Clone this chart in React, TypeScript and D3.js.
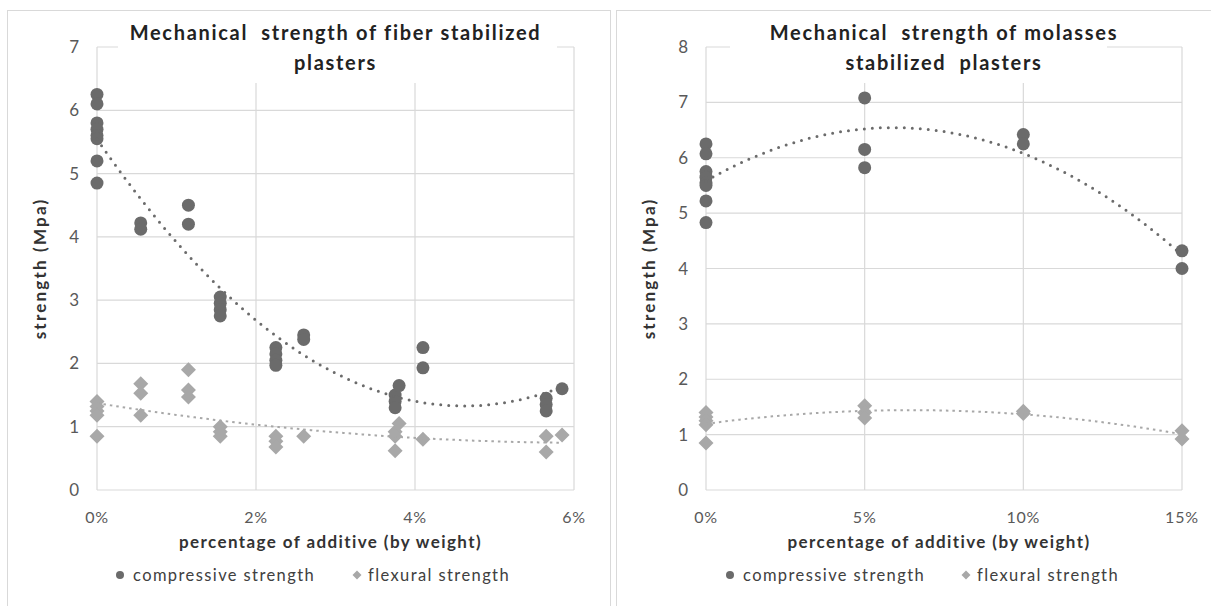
import React from "react";
import * as d3 from "d3";

// ---------- data ----------
// Fiber stabilized plasters (x = % fiber by weight, y = MPa)
const fiberCompX = [0, 0, 0, 0, 0, 0, 0, 0, 0.55, 0.55, 1.15, 1.15, 1.55, 1.55, 1.55, 1.55, 2.25, 2.25, 2.25, 2.25, 2.6, 2.6, 3.75, 3.75, 3.75, 3.8, 4.1, 4.1, 5.65, 5.65, 5.65, 5.85];
const fiberCompY = [6.25, 6.1, 5.8, 5.7, 5.6, 5.55, 5.2, 4.85, 4.22, 4.12, 4.5, 4.2, 3.05, 2.95, 2.85, 2.75, 2.25, 2.15, 2.05, 1.97, 2.45, 2.38, 1.5, 1.4, 1.3, 1.65, 2.25, 1.93, 1.45, 1.35, 1.25, 1.6];
const fiberFlexX = [0, 0, 0, 0, 0, 0.55, 0.55, 0.55, 1.15, 1.15, 1.15, 1.55, 1.55, 1.55, 2.25, 2.25, 2.25, 2.6, 3.75, 3.75, 3.75, 3.8, 4.1, 5.65, 5.65, 5.85];
const fiberFlexY = [1.4, 1.32, 1.25, 1.18, 0.85, 1.68, 1.53, 1.18, 1.9, 1.58, 1.47, 1.0, 0.92, 0.85, 0.85, 0.77, 0.68, 0.85, 0.92, 0.85, 0.62, 1.05, 0.8, 0.85, 0.6, 0.87];

// Molasses stabilized plasters
const molCompX = [0, 0, 0, 0, 0, 0, 0, 0, 5, 5, 5, 10, 10, 15, 15];
const molCompY = [6.25, 6.07, 5.75, 5.65, 5.55, 5.5, 5.22, 4.83, 7.08, 6.15, 5.82, 6.42, 6.25, 4.32, 4.0];
const molFlexX = [0, 0, 0, 0, 0, 5, 5, 5, 10, 10, 15, 15];
const molFlexY = [1.4, 1.32, 1.25, 1.18, 0.85, 1.52, 1.4, 1.3, 1.42, 1.38, 1.07, 0.92];

const fiberXTicks = [0, 2, 4, 6];
const fiberYTicks = [0, 1, 2, 3, 4, 5, 6, 7];
const molXTicks = [0, 5, 10, 15];
const molYTicks = [0, 1, 2, 3, 4, 5, 6, 7, 8];

const titleFiber = ["Mechanical  strength of fiber stabilized", "plasters"];
const titleMol = ["Mechanical  strength of molasses", "stabilized  plasters"];
const xTitle = "percentage of additive (by weight)";
const yTitle = "strength (Mpa)";
const legendNames = ["compressive strength", "flexural strength"];

// ---------- helpers ----------
const COMP = "#6b6b6b";
const FLEX = "#a8a8a8";
const GRID = "#d9d9d9";
const TEXT = "#595959";
const FONT = "Lato, 'Open Sans', sans-serif";

function quadFit(xs: number[], ys: number[]) {
  // least squares y = a + b x + c x^2
  const S = [0, 0, 0, 0, 0];
  const T = [0, 0, 0];
  xs.forEach((x, i) => {
    let p = 1;
    for (let k = 0; k < 5; k++) { S[k] += p; p *= x; }
    T[0] += ys[i]; T[1] += ys[i] * x; T[2] += ys[i] * x * x;
  });
  const M = [
    [S[0], S[1], S[2], T[0]],
    [S[1], S[2], S[3], T[1]],
    [S[2], S[3], S[4], T[2]],
  ];
  for (let i = 0; i < 3; i++) {
    let piv = i;
    for (let r = i + 1; r < 3; r++) if (Math.abs(M[r][i]) > Math.abs(M[piv][i])) piv = r;
    [M[i], M[piv]] = [M[piv], M[i]];
    for (let r = 0; r < 3; r++) {
      if (r === i) continue;
      const f = M[r][i] / M[i][i];
      for (let c = i; c < 4; c++) M[r][c] -= f * M[i][c];
    }
  }
  const a = M[0][3] / M[0][0], b = M[1][3] / M[1][1], c = M[2][3] / M[2][2];
  return (x: number) => a + b * x + c * x * x;
}

type PanelProps = {
  plot: { x0: number; x1: number; y0: number; y1: number };
  xDomain: [number, number];
  yDomain: [number, number];
  xTicks: number[];
  yTicks: number[];
  title: string[];
  titleBox: [number, number];
  comp: [number[], number[]];
  flex: [number[], number[]];
  legendX: [number, number];
};

function Panel(p: PanelProps) {
  const x = d3.scaleLinear().domain(p.xDomain).range([p.plot.x0, p.plot.x1]);
  const y = d3.scaleLinear().domain(p.yDomain).range([p.plot.y1, p.plot.y0]);
  const cx = (p.plot.x0 + p.plot.x1) / 2;
  const cy = (p.plot.y0 + p.plot.y1) / 2;

  const trend = (xs: number[], ys: number[]) => {
    const f = quadFit(xs, ys);
    const lo = d3.min(xs)!, hi = d3.max(xs)!;
    const pts = d3.range(0, 101).map((i) => lo + ((hi - lo) * i) / 100);
    return d3.line<number>().x((v) => x(v)).y((v) => y(f(v)))(pts) || "";
  };

  const diamond = (px: number, py: number, r: number) =>
    `M${px},${py - r}L${px + r},${py}L${px},${py + r}L${px - r},${py}Z`;

  return (
    <g>
      {/* grid */}
      {p.yTicks.map((t) => (
        <line key={"gy" + t} x1={p.plot.x0} x2={p.plot.x1} y1={y(t)} y2={y(t)} stroke={GRID} strokeWidth={1.2} />
      ))}
      {p.xTicks.map((t) => (
        <line key={"gx" + t} x1={x(t)} x2={x(t)} y1={p.plot.y0} y2={p.plot.y1} stroke={GRID} strokeWidth={1.2} />
      ))}
      {/* title with white background covering grid */}
      <rect x={p.titleBox[0]} y={p.plot.y0 - 30} width={p.titleBox[1] - p.titleBox[0]} height={83 - (p.plot.y0 - 30)} fill="#fff" />
      {p.title.map((t, i) => (
        <text key={"t" + i} x={cx} y={40 + i * 30} textAnchor="middle" fontFamily={FONT} fontWeight={700} fontSize={20} letterSpacing={1.7} fill="#222" style={{ whiteSpace: "pre" }}>
          {t}
        </text>
      ))}
      {/* y tick labels */}
      {p.yTicks.map((t) => (
        <text key={"yl" + t} x={p.plot.x0 - 18} y={y(t) + 6} textAnchor="end" fontFamily={FONT} fontSize={17} fill={TEXT}>
          {t}
        </text>
      ))}
      {/* x tick labels */}
      {p.xTicks.map((t) => (
        <text key={"xl" + t} x={x(t)} y={523} textAnchor="middle" fontFamily={FONT} fontSize={16} letterSpacing={0.8} fill={TEXT}>
          {t + "%"}
        </text>
      ))}
      {/* axis titles */}
      <text x={cx - 5} y={548} textAnchor="middle" fontFamily={FONT} fontWeight={700} fontSize={17} letterSpacing={1.4} fill="#333">
        {xTitle}
      </text>
      <text transform={`translate(${p.plot.x0 - 51},${cy}) rotate(-90)`} textAnchor="middle" fontFamily={FONT} fontWeight={700} fontSize={17} letterSpacing={2.2} fill="#333">
        {yTitle}
      </text>
      {/* points */}
      {p.flex[0].map((vx, i) => (
        <path key={"f" + i} d={diamond(x(vx), y(p.flex[1][i]), 7.5)} fill={FLEX} />
      ))}
      {p.comp[0].map((vx, i) => (
        <circle key={"c" + i} cx={x(vx)} cy={y(p.comp[1][i])} r={6.5} fill={COMP} />
      ))}
      {/* trendlines */}
      <path d={trend(p.comp[0], p.comp[1])} fill="none" stroke={COMP} strokeWidth={3} strokeDasharray="0 8" strokeLinecap="round" />
      <path d={trend(p.flex[0], p.flex[1])} fill="none" stroke={FLEX} strokeWidth={2} strokeDasharray="2.5 4" />
      {/* legend */}
      <circle cx={p.legendX[0]} cy={575} r={4} fill={COMP} />
      <text x={p.legendX[0] + 13} y={581} fontFamily={FONT} fontSize={16.5} letterSpacing={1.4} fill="#404040">{legendNames[0]}</text>
      <path d={diamond(p.legendX[1], 575, 4.5)} fill={FLEX} />
      <text x={p.legendX[1] + 11} y={581} fontFamily={FONT} fontSize={16.5} letterSpacing={1.4} fill="#404040">{legendNames[1]}</text>
    </g>
  );
}

export default function App() {
  return (
    <svg width={1211} height={606} style={{ position: "absolute", left: 0, top: 0, background: "#fff" }}>
      <rect x={0} y={0} width={1211} height={606} fill="#fff" />
      {/* panel borders */}
      <rect x={7.5} y={10.5} width={603} height={600} fill="none" stroke={GRID} />
      <rect x={616.5} y={10.5} width={600} height={600} fill="none" stroke={GRID} />
      <Panel
        plot={{ x0: 97, x1: 574, y0: 47, y1: 490 }}
        xDomain={[0, 6]}
        yDomain={[0, 7]}
        xTicks={fiberXTicks}
        yTicks={fiberYTicks}
        title={titleFiber}
        titleBox={[118, 557]}
        comp={[fiberCompX, fiberCompY]}
        flex={[fiberFlexX, fiberFlexY]}
        legendX={[120, 357]}
      />
      <Panel
        plot={{ x0: 706, x1: 1182, y0: 47, y1: 490 }}
        xDomain={[0, 15]}
        yDomain={[0, 8]}
        xTicks={molXTicks}
        yTicks={molYTicks}
        title={titleMol}
        titleBox={[730, 1107]}
        comp={[molCompX, molCompY]}
        flex={[molFlexX, molFlexY]}
        legendX={[730, 966]}
      />
    </svg>
  );
}
